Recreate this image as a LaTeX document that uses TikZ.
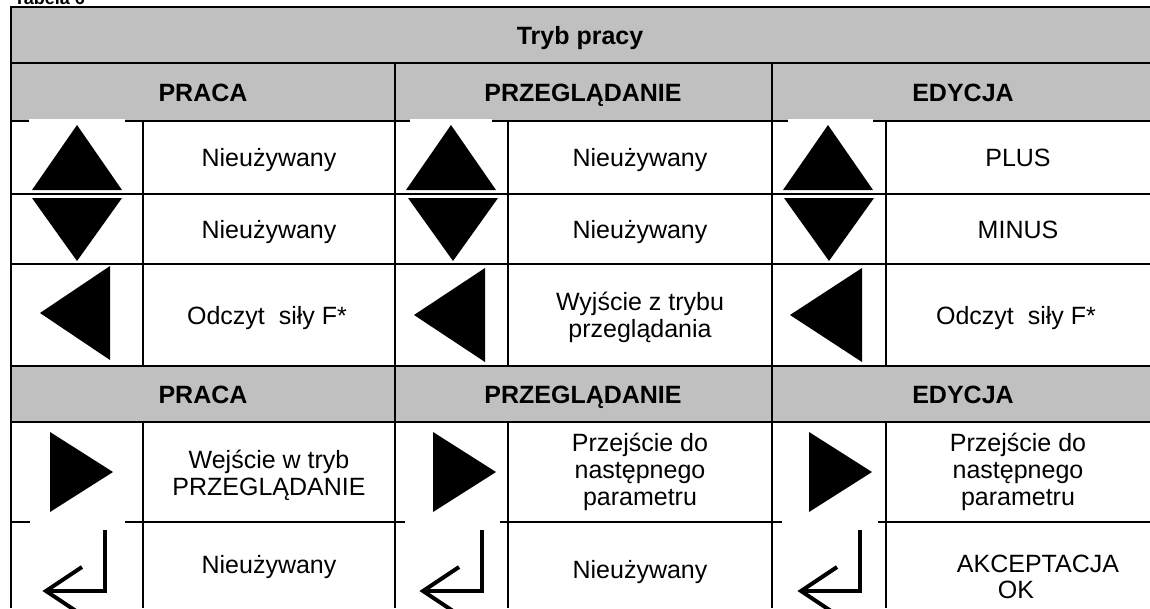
\documentclass[tikz,border=0pt]{standalone}
\usepackage{fontspec}
\setmainfont{Liberation Sans}
\definecolor{hdrgray}{RGB}{192,192,192}
\begin{document}
\begin{tikzpicture}[x=1pt,y=-1pt,
  gridline/.style={line width=2pt},
  txt/.style={anchor=base, inner sep=0pt, font=\fontsize{25}{27}\selectfont},
  hdr/.style={anchor=base, inner sep=0pt, font=\bfseries\fontsize{25}{27}\selectfont},
  icon/.style={fill=black},
  enterline/.style={line width=4pt, miter limit=10}]
\useasboundingbox (0,0) rectangle (1150,608);
% grey header bands
\fill[hdrgray] (11,7) rectangle (1150,121);
\fill[hdrgray] (11,366) rectangle (1150,422);
% horizontal rules
\foreach \yy in {7,63,121,194,264,366,422,522}
  \draw[gridline] (10,\yy) -- (1150,\yy);
% vertical rules
\draw[gridline] (11,6) -- (11,608);
\draw[gridline] (395,63) -- (395,608);
\draw[gridline] (772,63) -- (772,608);
\foreach \xx in {143,508,886}{
  \draw[gridline] (\xx,121) -- (\xx,366);
  \draw[gridline] (\xx,422) -- (\xx,608);
}
% white backgrounds of the icon pictures covering parts of the rules
\fill[white] (29,119) rectangle (125,123);
\fill[white] (410,119) rectangle (492,123);
\fill[white] (788,119) rectangle (873,123);
\fill[white] (30,520) rectangle (125,524);
\fill[white] (405,520) rectangle (500,524);
\fill[white] (782,520) rectangle (878,524);
% up triangles
\foreach \cx in {77,451,828}
  \fill[icon] (\cx,125) -- (\cx+45,190) -- (\cx-45,190) -- cycle;
% down triangles
\foreach \cx in {77,453,829}
  \fill[icon] (\cx-45,198) -- (\cx+45,198) -- (\cx,261) -- cycle;
% left triangles
\fill[icon] (40,313) -- (110,266) -- (110,360) -- cycle;
\fill[icon] (414,315) -- (485,268) -- (485,362) -- cycle;
\fill[icon] (790,315) -- (862,268) -- (862,362) -- cycle;
% right triangles
\fill[icon] (50,432) -- (113,472) -- (50,512) -- cycle;
\fill[icon] (433,432) -- (496,472) -- (433,512) -- cycle;
\fill[icon] (809,432) -- (872,472) -- (809,512) -- cycle;
% enter symbols
\foreach \dx in {0,377,755}{
  \draw[enterline] (105+\dx,530) -- (105+\dx,591) -- (50+\dx,591);
  \draw[enterline] (82+\dx,567) -- (46+\dx,591) -- (82+\dx,615);
}
% caption (cut by the top edge)
\node[anchor=base west, inner sep=0pt, font=\bfseries\fontsize{18}{20}\selectfont] (tab) at (14,4) {Tabela 6};
% headers
\node[hdr] (tryb) at (580,44) {Tryb pracy};
\node[hdr] (hpraca) at (203,101) {PRACA};
\node[hdr] (hprzeg) at (583,101) {PRZEGLĄDANIE};
\node[hdr] (hedyc) at (963,101) {EDYCJA};
\node[hdr] (hpracab) at (203,403) {PRACA};
\node[hdr] (hprzegb) at (583,403) {PRZEGLĄDANIE};
\node[hdr] (hedycb) at (963,403) {EDYCJA};
% up row
\node[txt] (u1) at (269,166) {Nieużywany};
\node[txt] (u2) at (640,166) {Nieużywany};
\node[txt] (u3) at (1018,166) {PLUS};
% down row
\node[txt] (d1) at (269,238) {Nieużywany};
\node[txt] (d2) at (640,238) {Nieużywany};
\node[txt] (d3) at (1018,238) {MINUS};
% left row
\node[txt] (l1) at (267,324) {Odczyt\ \ siły F*};
\node[txt] (l2a) at (640,310) {Wyjście z trybu};
\node[txt] (l2b) at (640,337) {przeglądania};
\node[txt] (l3) at (1016,324) {Odczyt\ \ siły F*};
% right row
\node[txt] (r1a) at (269,468) {Wejście w tryb};
\node[txt] (r1b) at (269,495) {PRZEGLĄDANIE};
\node[txt] (r2a) at (640,451) {Przejście do};
\node[txt] (r2b) at (640,478) {następnego};
\node[txt] (r2c) at (640,505) {parametru};
\node[txt] (r3a) at (1018,451) {Przejście do};
\node[txt] (r3b) at (1018,478) {następnego};
\node[txt] (r3c) at (1018,505) {parametru};
% enter row
\node[txt] (e1) at (269,573) {Nieużywany};
\node[txt] (e2) at (640,578) {Nieużywany};
\node[txt] (e3a) at (1038,572) {AKCEPTACJA};
\node[txt] (e3b) at (1016,598) {OK};
\end{tikzpicture}
\end{document}
